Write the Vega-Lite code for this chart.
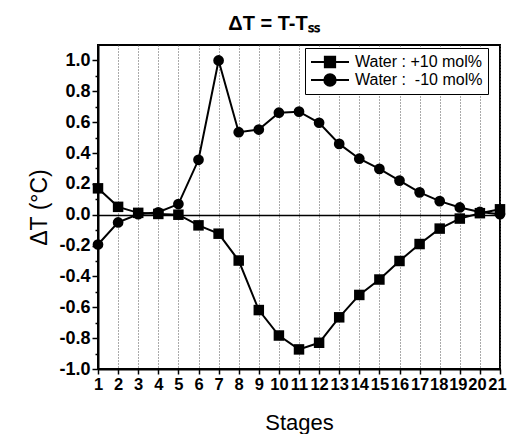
{
  "$schema": "https://vega.github.io/schema/vega-lite/v6.json",
  "width": 402,
  "height": 324,
  "autosize": "none",
  "padding": {"left": 98, "top": 45, "right": 8, "bottom": 65},
  "background": "white",
  "config": {
    "font": "Liberation Sans",
    "view": {"stroke": "black", "strokeWidth": 2}
  },
  "title": {
    "text": "ΔT = T-Tₛₛ",
    "fontSize": 20,
    "fontWeight": "bold",
    "color": "black",
    "anchor": "middle",
    "dx": -25,
    "offset": 11
  },
  "data": {
    "values": [
      {"stage": 1, "series": "Water : +10 mol%", "dT": 0.171},
      {"stage": 2, "series": "Water : +10 mol%", "dT": 0.051},
      {"stage": 3, "series": "Water : +10 mol%", "dT": 0.012},
      {"stage": 4, "series": "Water : +10 mol%", "dT": 0.005},
      {"stage": 5, "series": "Water : +10 mol%", "dT": 0.0},
      {"stage": 6, "series": "Water : +10 mol%", "dT": -0.069},
      {"stage": 7, "series": "Water : +10 mol%", "dT": -0.123},
      {"stage": 8, "series": "Water : +10 mol%", "dT": -0.297},
      {"stage": 9, "series": "Water : +10 mol%", "dT": -0.618},
      {"stage": 10, "series": "Water : +10 mol%", "dT": -0.783},
      {"stage": 11, "series": "Water : +10 mol%", "dT": -0.873},
      {"stage": 12, "series": "Water : +10 mol%", "dT": -0.83},
      {"stage": 13, "series": "Water : +10 mol%", "dT": -0.665},
      {"stage": 14, "series": "Water : +10 mol%", "dT": -0.52},
      {"stage": 15, "series": "Water : +10 mol%", "dT": -0.42},
      {"stage": 16, "series": "Water : +10 mol%", "dT": -0.3},
      {"stage": 17, "series": "Water : +10 mol%", "dT": -0.19},
      {"stage": 18, "series": "Water : +10 mol%", "dT": -0.09},
      {"stage": 19, "series": "Water : +10 mol%", "dT": -0.025},
      {"stage": 20, "series": "Water : +10 mol%", "dT": 0.01},
      {"stage": 21, "series": "Water : +10 mol%", "dT": 0.035},
      {"stage": 1, "series": "Water :\u00a0 -10 mol%", "dT": -0.193},
      {"stage": 2, "series": "Water :\u00a0 -10 mol%", "dT": -0.05},
      {"stage": 3, "series": "Water :\u00a0 -10 mol%", "dT": 0.003},
      {"stage": 4, "series": "Water :\u00a0 -10 mol%", "dT": 0.016},
      {"stage": 5, "series": "Water :\u00a0 -10 mol%", "dT": 0.069},
      {"stage": 6, "series": "Water :\u00a0 -10 mol%", "dT": 0.356},
      {"stage": 7, "series": "Water :\u00a0 -10 mol%", "dT": 1.0},
      {"stage": 8, "series": "Water :\u00a0 -10 mol%", "dT": 0.535},
      {"stage": 9, "series": "Water :\u00a0 -10 mol%", "dT": 0.552},
      {"stage": 10, "series": "Water :\u00a0 -10 mol%", "dT": 0.661},
      {"stage": 11, "series": "Water :\u00a0 -10 mol%", "dT": 0.668},
      {"stage": 12, "series": "Water :\u00a0 -10 mol%", "dT": 0.596},
      {"stage": 13, "series": "Water :\u00a0 -10 mol%", "dT": 0.459},
      {"stage": 14, "series": "Water :\u00a0 -10 mol%", "dT": 0.363},
      {"stage": 15, "series": "Water :\u00a0 -10 mol%", "dT": 0.297},
      {"stage": 16, "series": "Water :\u00a0 -10 mol%", "dT": 0.221},
      {"stage": 17, "series": "Water :\u00a0 -10 mol%", "dT": 0.145},
      {"stage": 18, "series": "Water :\u00a0 -10 mol%", "dT": 0.088},
      {"stage": 19, "series": "Water :\u00a0 -10 mol%", "dT": 0.047},
      {"stage": 20, "series": "Water :\u00a0 -10 mol%", "dT": 0.018},
      {"stage": 21, "series": "Water :\u00a0 -10 mol%", "dT": 0.003}
    ]
  },
  "encoding": {
    "x": {
      "field": "stage", "type": "quantitative",
      "scale": {"domain": [1, 21], "nice": false, "zero": false},
      "axis": {
        "title": "Stages",
        "values": [1, 2, 3, 4, 5, 6, 7, 8, 9, 10, 11, 12, 13, 14, 15, 16, 17, 18, 19, 20, 21],
        "tickCount": 30,
        "format": "d",
        "grid": true, "gridDash": [1, 2], "gridColor": "#555", "gridWidth": 1,
        "domainColor": "black", "domainWidth": 2,
        "tickColor": "black", "tickWidth": 1.5, "tickSize": 5,
        "labelFontSize": 16.5, "labelFontWeight": "bold", "labelColor": "black",
        "labelOffset": {"condition": [
          {"test": "datum.value == 18", "value": -1},
          {"test": "datum.value == 19", "value": -2},
          {"test": "datum.value == 20", "value": -3},
          {"test": "datum.value == 21", "value": -3}
        ], "value": 0},
        "labelPadding": 2, "labelFlush": false, "labelOverlap": false, "labelBound": false,
        "titleFontSize": 22, "titleFontWeight": "normal", "titleColor": "black", "titlePadding": 20
      }
    },
    "y": {
      "field": "dT", "type": "quantitative",
      "scale": {"domain": [-1.0, 1.1], "nice": false, "zero": false},
      "axis": {
        "title": "ΔT (°C)",
        "values": [-1.0, -0.9, -0.8, -0.7, -0.6, -0.5, -0.4, -0.3, -0.2, -0.1, 0.0, 0.1, 0.2, 0.3, 0.4, 0.5, 0.6, 0.7, 0.8, 0.9, 1.0],
        "tickCount": 30,
        "labelExpr": "abs(round(datum.value * 10)) % 2 == 0 ? replace(format(datum.value, '.1f'), '\u2212', '-') : ''",
        "grid": true,
        "gridColor": "black", "gridWidth": 1.5,
        "gridOpacity": {"condition": {"test": "abs(datum.value) < 0.001", "value": 1}, "value": 0},
        "domainColor": "black", "domainWidth": 2,
        "tickColor": "black", "tickWidth": 1.5,
        "tickSize": {"condition": {"test": "abs(round(datum.value * 10)) % 2 == 0", "value": 6}, "value": 3},
        "labelFontSize": 18, "labelFontWeight": "bold", "labelColor": "black",
        "labelPadding": 2, "labelFlush": false, "labelOverlap": false, "labelBound": false,
        "titleFontSize": 23, "titleFontWeight": "normal", "titleColor": "black", "titlePadding": 7
      }
    }
  },
  "layer": [
    {
      "mark": {"type": "line", "color": "black", "strokeWidth": 2},
      "encoding": {"detail": {"field": "series"}}
    },
    {
      "transform": [{"filter": "datum.series == 'Water : +10 mol%'"}],
      "mark": {"type": "point", "shape": "square", "filled": true, "color": "black", "opacity": 1, "size": 110}
    },
    {
      "transform": [{"filter": "datum.series != 'Water : +10 mol%'"}],
      "mark": {"type": "point", "shape": "circle", "filled": true, "color": "black", "opacity": 1, "size": 115}
    },
    {
      "transform": [{"filter": "datum.stage > 100"}],
      "mark": {"type": "point", "filled": false, "fill": "black", "strokeWidth": 2, "opacity": 1},
      "encoding": {
        "color": {
          "field": "series", "type": "nominal",
          "scale": {"domain": ["Water : +10 mol%", "Water :\u00a0 -10 mol%"], "range": ["black", "black"]},
          "legend": {
            "title": null,
            "orient": "none", "legendX": 207, "legendY": 3,
            "strokeColor": "black", "fillColor": "white", "padding": 5,
            "labelFont": "Liberation Sans", "labelFontSize": 16, "labelColor": "black",
            "labelOffset": 5, "labelLimit": 300,
            "symbolSize": 1444, "symbolStrokeWidth": 2, "symbolOpacity": 1,
            "clipHeight": 18, "rowPadding": 0
          }
        },
        "shape": {
          "field": "series", "type": "nominal",
          "scale": {
            "domain": ["Water : +10 mol%", "Water :\u00a0 -10 mol%"],
            "range": [
              "M-1,0L1,0M-0.27,-0.27L0.27,-0.27L0.27,0.27L-0.27,0.27Z",
              "M-1,0L1,0M0.3,0A0.3,0.3,0,1,1,-0.3,0A0.3,0.3,0,1,1,0.3,0Z"
            ]
          },
          "legend": {
            "title": null,
            "orient": "none", "legendX": 207, "legendY": 3,
            "strokeColor": "black", "fillColor": "white", "padding": 5,
            "labelFont": "Liberation Sans", "labelFontSize": 16, "labelColor": "black",
            "labelOffset": 5, "labelLimit": 300,
            "symbolSize": 1444, "symbolStrokeWidth": 2, "symbolOpacity": 1,
            "clipHeight": 18, "rowPadding": 0
          }
        }
      }
    }
  ]
}
